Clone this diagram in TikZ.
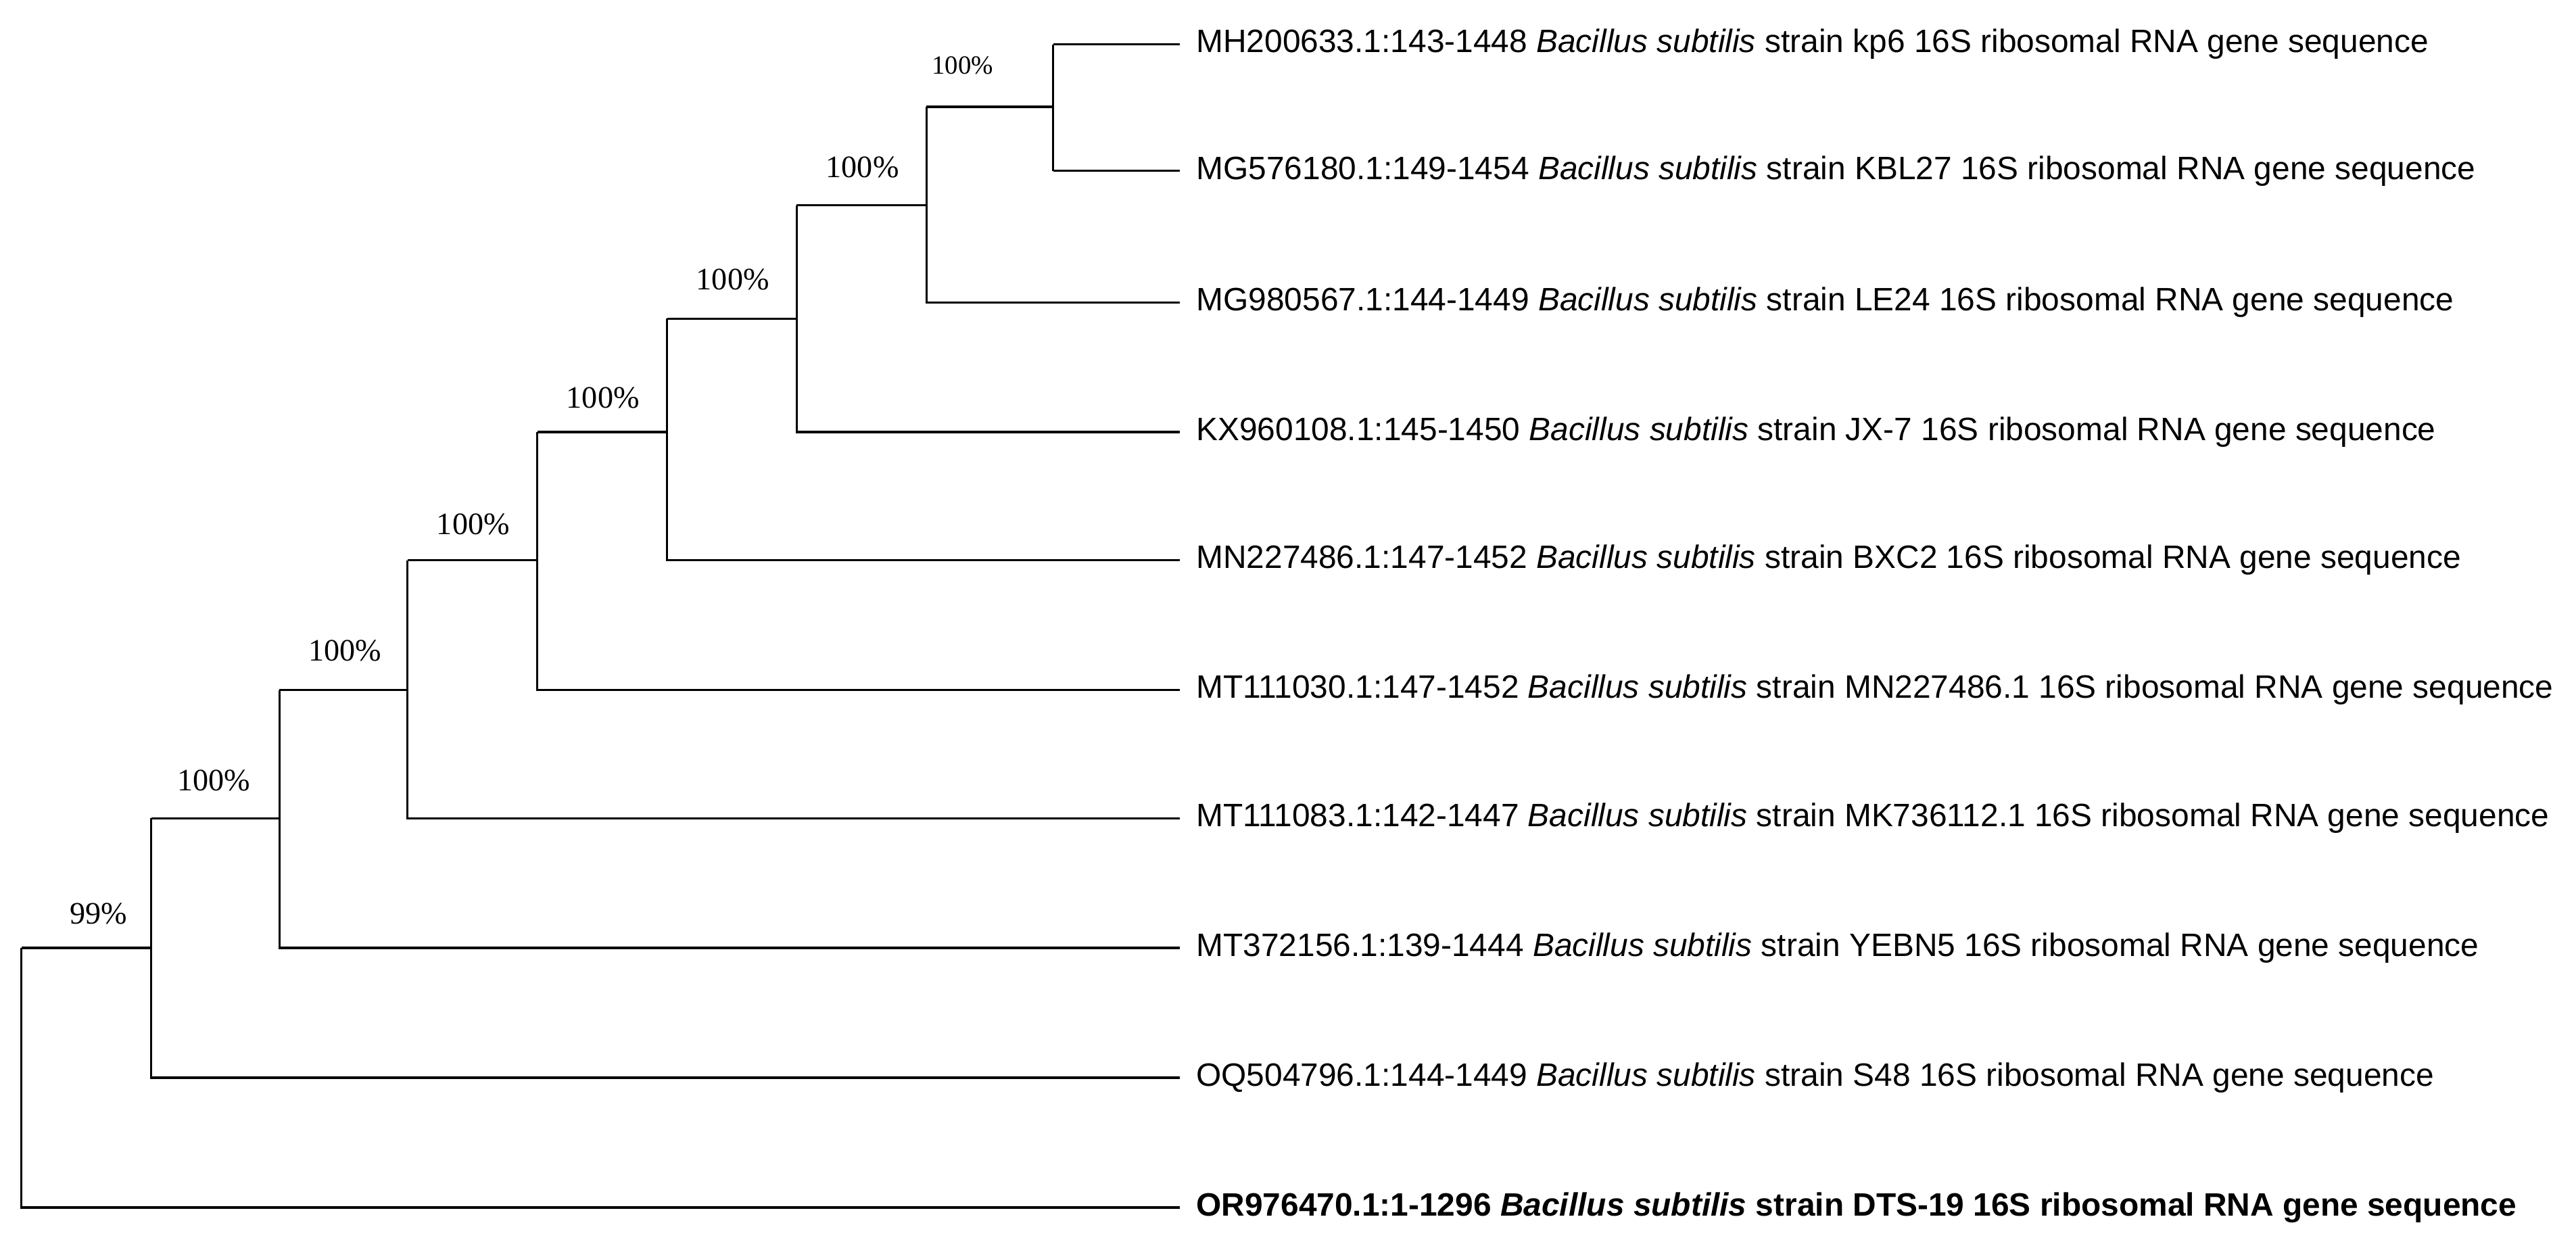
\documentclass[tikz,border=0pt]{standalone}
\usepackage{fontspec}
\setmainfont{Liberation Sans}
\newfontfamily\serif{Liberation Serif}
\begin{document}
\begin{tikzpicture}[x=1pt,y=-1pt,
  br/.style={line width=1.3pt},
  lab/.style={anchor=west,inner sep=0pt,font=\fontsize{19.7}{22}\selectfont},
  bs/.style={font=\serif\fontsize{19}{22}\selectfont,inner sep=0pt}]
\useasboundingbox (0,0) rectangle (1568,756);
% tips
\foreach \n/\y in {t1/27,t2/104,t3/184,t4/263,t5/341,t6/420,t7/498,t8/577,t9/656,t10/735}
  \coordinate (\n) at (718,\y);
% internal nodes
\coordinate (n9) at (641,65);
\coordinate (n8) at (564,125);
\coordinate (n7) at (485,194);
\coordinate (n6) at (406,263);
\coordinate (n5) at (327,341);
\coordinate (n4) at (248,420);
\coordinate (n3) at (170,498);
\coordinate (n2) at (92,577);
\coordinate (n1) at (13,656);
\draw[br] (t1-|n9) -- (t2-|n9);
\draw[br] (t1-|n9) -- (t1) (t2-|n9) -- (t2);
\draw[br] (n8|-n9) -- (n9) ;
\draw[br] (n8|-n9) -- (n8|-t3) -- (t3);
\draw[br] (n7|-n8) -- (n8|-n8) (n7|-n8) -- (n7|-t4) -- (t4);
\draw[br] (n6|-n7) -- (n7|-n7) (n6|-n7) -- (n6|-t5) -- (t5);
\draw[br] (n5|-n6) -- (n6|-n6) (n5|-n6) -- (n5|-t6) -- (t6);
\draw[br] (n4|-n5) -- (n5|-n5) (n4|-n5) -- (n4|-t7) -- (t7);
\draw[br] (n3|-n4) -- (n4|-n4) (n3|-n4) -- (n3|-t8) -- (t8);
\draw[br] (n2|-n3) -- (n3|-n3) (n2|-n3) -- (n2|-t9) -- (t9);
\draw[br] (n1|-n2) -- (n2|-n2) (n1|-n2) -- (n1|-t10) -- (t10);
% labels
\node[lab] (l1) at (728,27) {MH200633.1:143-1448 \textit{Bacillus subtilis} strain kp6 16S ribosomal RNA gene sequence};
\node[lab] (l2) at (728,104) {MG576180.1:149-1454 \textit{Bacillus subtilis} strain KBL27 16S ribosomal RNA gene sequence};
\node[lab] (l3) at (728,184) {MG980567.1:144-1449 \textit{Bacillus subtilis} strain LE24 16S ribosomal RNA gene sequence};
\node[lab] (l4) at (728,263) {KX960108.1:145-1450 \textit{Bacillus subtilis} strain JX-7 16S ribosomal RNA gene sequence};
\node[lab] (l5) at (728,341) {MN227486.1:147-1452 \textit{Bacillus subtilis} strain BXC2 16S ribosomal RNA gene sequence};
\node[lab] (l6) at (728,420) {MT111030.1:147-1452 \textit{Bacillus subtilis} strain MN227486.1 16S ribosomal RNA gene sequence};
\node[lab] (l7) at (728,498) {MT111083.1:142-1447 \textit{Bacillus subtilis} strain MK736112.1 16S ribosomal RNA gene sequence};
\node[lab] (l8) at (728,577) {MT372156.1:139-1444 \textit{Bacillus subtilis} strain YEBN5 16S ribosomal RNA gene sequence};
\node[lab] (l9) at (728,656) {OQ504796.1:144-1449 \textit{Bacillus subtilis} strain S48 16S ribosomal RNA gene sequence};
\node[lab,font=\bfseries\fontsize{19.7}{22}\selectfont] (l10) at (728,735) {OR976470.1:1-1296 \textit{Bacillus subtilis} strain DTS-19 16S ribosomal RNA gene sequence};
% bootstrap
\node[bs] (b1) at (60,556) {99\%};
\node[bs] (b2) at (130,475) {100\%};
\node[bs] (b3) at (210,396) {100\%};
\node[bs] (b4) at (288,319) {100\%};
\node[bs] (b5) at (367,242) {100\%};
\node[bs] (b6) at (446,170) {100\%};
\node[bs] (b7) at (525,102) {100\%};
\node[bs,font=\serif\fontsize{16}{18}\selectfont] (b8) at (586,40) {100\%};
\end{tikzpicture}
\end{document}
